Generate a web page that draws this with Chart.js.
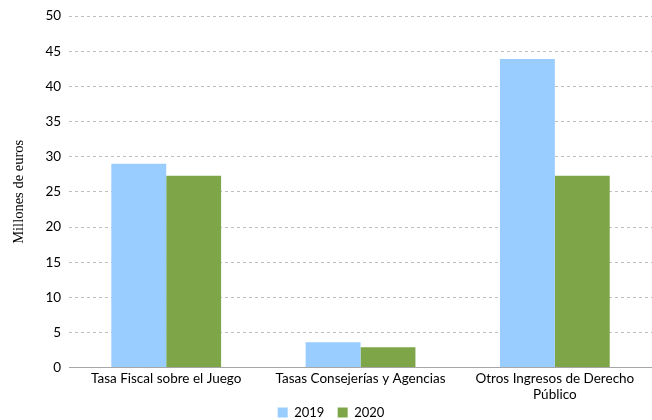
<!DOCTYPE html>
<html>
<head>
<meta charset="utf-8">
<script src="https://cdn.jsdelivr.net/npm/chart.js@4/dist/chart.umd.min.js"></script>
<style>
  html, body { margin: 0; padding: 0; background: #fff; }
  #wrap { width: 652px; height: 420px; }
</style>
</head>
<body>
<div id="wrap"><canvas id="ingresosChart"></canvas></div>
<script>
var categorias = [
    'Tasa Fiscal sobre el Juego',
    'Tasas Consejerías y Agencias',
    ['Otros Ingresos de Derecho', 'Público']
];
var valores2019 = [29.0, 3.6, 43.9];
var valores2020 = [27.3, 2.9, 27.3];
var ticksY = [0, 5, 10, 15, 20, 25, 30, 35, 40, 45, 50];

window.onload = function () {
    var ctx = document.getElementById('ingresosChart').getContext('2d');
    var chart = new Chart(ctx, {
        type: 'bar',
        data: {
            labels: categorias,
            datasets: [{
                label: '2019',
                data: valores2019,
                backgroundColor: '#99ccff',
                categoryPercentage: 0.565,
                barPercentage: 1.0
            }, {
                label: '2020',
                data: valores2020,
                backgroundColor: '#7ea648',
                categoryPercentage: 0.565,
                barPercentage: 1.0
            }]
        },
        options: {
            responsive: true,
            maintainAspectRatio: false,
            animation: false,
            layout: { padding: { top: 12, right: 0, left: 10, bottom: -9 } },
            plugins: {
                legend: {
                    position: 'bottom',
                    labels: {
                        boxWidth: 10,
                        boxHeight: 10,
                        padding: 0,
                        color: '#000',
                        font: { family: 'Lato', size: 13 },
                        // padding 0 keeps the legend tight under the labels,
                        // so add a little room between items with spaces
                        generateLabels: function (c) {
                            var items = Chart.defaults.plugins.legend.labels.generateLabels(c);
                            items.forEach(function (it, i) {
                                if (i < items.length - 1) it.text = it.text + '    ';
                            });
                            return items;
                        }
                    }
                },
                tooltip: { enabled: false }
            },
            scales: {
                x: {
                    grid: { display: false, drawTicks: false },
                    border: { display: true, color: '#a6a6a6', width: 1 },
                    ticks: {
                        color: '#000',
                        padding: 3,
                        maxRotation: 0,
                        autoSkip: false,
                        font: { family: 'Lato', size: 13.5, lineHeight: 1.2 }
                    }
                },
                y: {
                    min: 0,
                    max: 50,
                    afterBuildTicks: function (axis) {
                        axis.ticks = ticksY.map(function (v) { return { value: v }; });
                    },
                    grid: {
                        color: function (c) { return c.tick.value === 0 ? 'rgba(0,0,0,0)' : '#bfbfbf'; },
                        drawTicks: false
                    },
                    border: { display: false, dash: [3, 3] },
                    ticks: {
                        color: '#000',
                        padding: 8,
                        font: { family: 'Lato', size: 13.5 }
                    },
                    title: {
                        display: true,
                        text: 'Millones de euros',
                        color: '#000',
                        padding: { top: 0, bottom: 10 },
                        font: { family: 'Liberation Serif', size: 14.5 }
                    }
                }
            }
        }
    });
};
</script>
</body>
</html>
